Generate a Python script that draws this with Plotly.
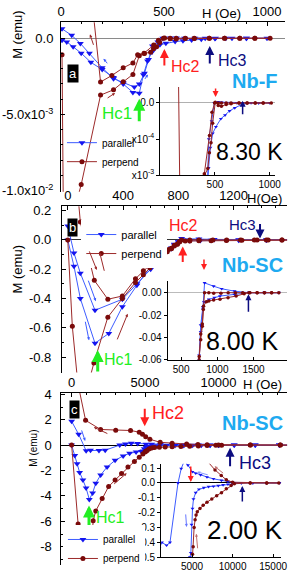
import plotly.graph_objects as go

W, H = 295, 574
FONT = "Liberation Sans, Arial, sans-serif"

# ---------------- data ----------------
# (a) Nb-F, 8.30 K   H in Oe, M in emu
a_par_H = [5, 28, 59, 98, 145, 200, 255, 302, 349, 380, 400, 420, 442, 458, 480, 509, 554, 592, 634, 681, 747, 830, 900, 1000,
           900, 800, 750, 700, 650, 600, 560, 530, 494, 470, 444, 425, 405, 380, 356, 302, 255, 200, 138, 94, 52, 5]
a_par_M = [-1.3e-4, -2.4e-4, -5.6e-4, -9.8e-4, -1.58e-3, -2.05e-3, -2.58e-3, -3.0e-3, -3.55e-3, -3.6e-3, -2.4e-3, -1.5e-3,
           -9e-4, -6.2e-4, -4.2e-4, -3.3e-4, -2.2e-4, -1.7e-4, -1.1e-4, -6.8e-5, -2e-5, 0, 0, 0,
           0, 0, 0, 0, 0, 0, 1e-5, 1.5e-5, 0, -2.5e-4, -5e-4, -1.4e-3, -2.3e-3, -3.0e-3, -3.2e-3, -2.9e-3, -2.65e-3,
           -1.94e-3, -9.8e-4, -3.4e-4, 1.9e-4, 6.2e-4]
a_perp_H = [5, 12, 60, 98, 192, 255, 302, 349, 380, 405, 435, 449, 464, 479, 503, 530, 559, 603, 647, 720, 794, 868, 941, 1015,
            941, 868, 794, 720, 647, 603, 559, 530, 497, 473, 450, 403, 372, 349, 302, 247, 192, 150]
a_perp_M = [-1.09e-3, -1.25e-2, -1.15e-2, -9.6e-3, -3.73e-3, -3.38e-3, -2.86e-3, -2.37e-3, -1.15e-3, -1.0e-3, -9.1e-4,
            -6.9e-4, -5.5e-4, -2.8e-4, 1e-5, -3.4e-5, -4.7e-5, -2e-5, -1e-5, 0, 0, 0, 0, 0,
            0, 0, 0, 0, 0, 0, 0, 0, 0, -1.3e-4, -4.5e-4, -9.8e-4, -1.09e-3, -1.62e-3, -1.94e-3, -2.44e-3, -2.87e-3, 2.5e-3]
a_inset_Hmin = 140  # the inset of (a) shows the loop from this field upward

# (b) Nb-SC, 8.00 K
b_par_H = [0, 45, 91, 197, 297, 395, 500, 594, 665, 710, 749, 771, 800, 816, 883, 960, 1037, 1237, 1437, 1650, 1850,
           1650, 1437, 1237, 1060, 949, 824, 800, 771, 749, 700, 600, 500, 395, 197, 91, 45, 0]
b_par_M = [0, -0.18, -0.40, -0.705, -0.638, -0.456, -0.31, -0.19, -0.12, -0.08, -0.056, -0.029, -0.013, -0.0082, -0.006,
           -0.0045, -0.003, -0.0015, 0, 0, 0,
           0, 0, 0.0014, 0.0035, 0.0058, 0.0088, -0.015, -0.035, -0.06, -0.1, -0.2, -0.3, -0.405, -0.48, -0.227, -0.089, 0.095]
b_perp_H = [0, 33, 75, 130, 189, 290, 395, 490, 547, 594, 640, 690, 730, 750, 771, 793, 810, 850, 883, 949, 1037, 1148, 1260,
            1370, 1437, 1550, 1650, 1750, 1850,
            1750, 1650, 1550, 1450, 1350, 1250, 1150, 1050, 950, 883, 824, 807, 793, 771, 750, 720, 667, 620, 547, 490, 395,
            290, 192, 91, 60]
b_perp_M = [0, -0.59, -1.0, -1.05, -0.84, -0.527, -0.40, -0.29, -0.238, -0.19, -0.14, -0.095, -0.065, -0.057, -0.037, -0.028,
            -0.012, -0.008, -0.0073, -0.0065, -0.0059, -0.0044, -0.003, -0.001, 0, 0, 0, 0, 0,
            0, 0, 0, 0, 0, 0, 0, -0.0005, -0.0005, 0, 0, -0.015, -0.03, -0.042, -0.06, -0.08, -0.105, -0.149, -0.211, -0.265,
            -0.383, -0.405, -0.276, 0.122, 0.45]

# (c) Nb-SC, 2.00 K
c_par_H = [0, 217, 375, 546, 770, 987, 1204, 1428, 1645, 1974, 2414, 2960, 3507, 3947, 4388, 4750, 4857, 4940, 5060, 5180,
           5452, 5850, 6450, 7040, 7640, 8240, 8830, 9430, 10020, 11070, 12500, 14145, 15800,
           14145, 12500, 11070, 10000, 9429, 8631, 7643, 6845, 6048, 5452, 5060, 4500, 4059, 3667, 3274, 2286, 1862, 1286,
           987, 480, 0]
c_par_M = [0, -0.82, -1.46, -2.15, -2.75, -3.38, -4.28, -3.77, -3.0, -2.36, -1.72, -1.2, -0.85, -0.65, -0.55, -0.50, -0.47,
           -0.28, -0.172, -0.108, -0.065, -0.043, -0.032, -0.025, -0.022, -0.018, -0.013, -0.009, -0.005, 0, 0, 0, 0,
           0, 0, 0, 0.004, 0.01, 0.017, 0.028, 0.04, 0.054, 0.065, 0.075, 0.12, 0.15, 0.097, 0, -0.40, -0.42, -0.40, -0.44,
           0.85, 1.87]
c_perp_H = [0, 441, 600, 900, 1200, 1467, 1645, 2080, 2520, 2960, 3400, 3836, 4276, 4605, 4850, 5000, 5060, 5140, 5260,
            5380, 5500, 5650, 5976, 6370, 6845, 7440, 8040, 8630, 9226, 9820, 10214, 12170, 14210, 15700,
            14210, 12170, 10000, 9226, 8600, 7833, 6842, 6031, 5330, 5044, 4825, 4605, 4013, 3004, 1974, 950, 400]
c_perp_M = [0, -6.2, -9.9, -11.5, -10.5, -5.95, -5.18, -4.2, -3.26, -2.75, -2.23, -1.72, -1.28, -0.95, -0.7, -0.55, -0.48,
            -0.43, -0.30, -0.248, -0.215, -0.194, -0.172, -0.15, -0.129, -0.108, -0.086, -0.065, -0.039, -0.017, -0.005,
            0, 0, 0,
            0, 0, 0.005, 0.021, 0.05, 0.088, 0.15, 0.22, 0.46, 0.66, 0.85, 1.02, 1.15, 1.18, 1.23, 1.95, 5.0]

# tick labels
a_xt = [0, 500, 1000];            a_xl = ["0", "500", "1000"]
a_yt = [0, -5e-3, -1e-2];         a_yl = ["0.0", "-5.0x10<sup>-3</sup>", "-1.0x10<sup>-2</sup>"]
ai_xt = [500, 1000];              ai_xl = ["500", "1000"]
ai_yt = [0, -5e-4, -1e-3];        ai_yl = ["0.0", "x10<sup>-4</sup>", "x10<sup>-3</sup>"]
b_xt = [0, 400, 800, 1200];       b_xl = ["0", "400", "800", "1200"]
b_yt = [0.2, 0, -0.2, -0.4, -0.6, -0.8]; b_yl = ["0.2", "0.0", "-0.2", "-0.4", "-0.6", "-0.8"]
bi_xt = [500, 1000, 1500];        bi_xl = ["500", "1000", "1500"]
bi_yt = [0, -0.02, -0.04, -0.06]; bi_yl = ["0.00", "-0.02", "-0.04", "-0.06"]
c_xt = [0, 5000, 10000];          c_xl = ["0", "5000", "10000"]
c_yt = [4, 2, 0, -2, -4, -6, -8]; c_yl = ["4", "2", "0", "-2", "-4", "-6", "-8"]
ci_xt = [5000, 10000, 15000];     ci_xl = ["5000", "10000", "15000"]
ci_yt = [0.1, 0, -0.1, -0.2, -0.3, -0.4, -0.5]
ci_yl = ["0.1", "0.0", "-0.1", "-0.2", "-0.3", "-0.4", "-0.5"]

BLUE_M, BLUE_L = "#1414f0", "#3d5cff"
BROWN_M, BROWN_L = "#7a0a0a", "#9c2a2a"
GREEN, RED, NAVY, CYAN = "#22ee22", "#ff2020", "#0c0c80", "#1eaaf0"


def fx(px):
    return px / W


def fy(py):
    return 1 - py / H


def above(hs, ms, hmin):
    keep = [(h, m) for h, m in zip(hs, ms) if h >= hmin]
    return [k[0] for k in keep], [k[1] for k in keep]


fig = go.Figure()


def pair(Hp, Mp, Hq, Mq, ax, leg, show, ms_t, ms_c):
    fig.add_trace(go.Scatter(x=Hp, y=Mp, name="parallel", mode="lines+markers", xaxis="x" + ax, yaxis="y" + ax,
                             line=dict(color=BLUE_L, width=1),
                             marker=dict(symbol="triangle-down", size=ms_t, color=BLUE_M),
                             legend=leg, showlegend=show))
    fig.add_trace(go.Scatter(x=Hq, y=Mq, name="perpend", mode="lines+markers", xaxis="x" + ax, yaxis="y" + ax,
                             line=dict(color=BROWN_L, width=1),
                             marker=dict(symbol="circle", size=ms_c, color=BROWN_M),
                             legend=leg, showlegend=show))


ai_par_H, ai_par_M = above(a_par_H, a_par_M, a_inset_Hmin)
ai_perp_H, ai_perp_M = above(a_perp_H, a_perp_M, a_inset_Hmin)

pair(a_par_H, a_par_M, a_perp_H, a_perp_M, "", "legend", True, 6, 5)
pair(ai_par_H, ai_par_M, ai_perp_H, ai_perp_M, "2", "legend", False, 3.5, 3.5)
pair(b_par_H, b_par_M, b_perp_H, b_perp_M, "3", "legend2", True, 6, 5)
pair(b_par_H, b_par_M, b_perp_H, b_perp_M, "4", "legend2", False, 3.5, 3.5)
pair(c_par_H, c_par_M, c_perp_H, c_perp_M, "5", "legend3", True, 6, 5)
pair(c_par_H, c_par_M, c_perp_H, c_perp_M, "6", "legend3", False, 3.5, 3.5)


def main_x(anchor, dom, rng, tv, tt, mdt):
    return dict(anchor=anchor, domain=dom, range=rng, side="top", showline=True, linecolor="black", linewidth=1,
                ticks="inside", ticklen=4, tickcolor="black", tickmode="array", tickvals=tv, ticktext=tt,
                minor=dict(ticks="inside", ticklen=2, tick0=0, dtick=mdt, tickcolor="black"),
                showgrid=False, zeroline=False, tickfont=dict(size=13, color="black", family=FONT))


def main_y(anchor, dom, rng, tv, tt, mdt, zc, standoff):
    return dict(anchor=anchor, domain=dom, range=rng, showline=True, linecolor="black", linewidth=1,
                ticks="inside", ticklen=4, tickcolor="black", tickmode="array", tickvals=tv, ticktext=tt,
                minor=dict(ticks="inside", ticklen=2, tick0=0, dtick=mdt, tickcolor="black"),
                showgrid=False, zeroline=True, zerolinecolor=zc, zerolinewidth=1, ticklabelstandoff=standoff,
                tickfont=dict(size=13, color="black", family=FONT))


def ins_x(anchor, dom, rng, tv, tt):
    return dict(anchor=anchor, domain=dom, range=rng, showline=True, linecolor="black", linewidth=1,
                ticks="inside", ticklen=3, tickcolor="black", tickmode="array", tickvals=tv, ticktext=tt,
                showgrid=False, zeroline=False, tickfont=dict(size=10, color="black", family=FONT))


def ins_y(anchor, dom, rng, tv, tt, zc):
    return dict(anchor=anchor, domain=dom, range=rng, showline=True, linecolor="black", linewidth=1,
                ticks="outside", ticklen=3, tickcolor="black", tickmode="array", tickvals=tv, ticktext=tt,
                showgrid=False, zeroline=True, zerolinecolor=zc, zerolinewidth=1,
                tickfont=dict(size=10, color="black", family=FONT))


fig.update_layout(
    width=W, height=H, margin=dict(l=0, r=0, t=0, b=0), paper_bgcolor="white", plot_bgcolor="white",
    font=dict(family=FONT, color="black"),
    xaxis=main_x("y", [fx(59), fx(291)], [0, 1088], a_xt, a_xl, 100),
    yaxis=main_y("x", [fy(190), fy(16.7)], [-1.0064e-2, 1.045e-3], a_yt, a_yl, 1e-3, "#8a8a8a", 4),
    xaxis2=ins_x("y2", [fx(161.7), fx(281)], [0, 1053], ai_xt, ai_xl),
    yaxis2=ins_y("x2", [fy(173), fy(83)], [-1.0e-3, 2.2e-4], ai_yt, ai_yl, "#b0b0b0"),
    xaxis3=main_x("y3", [fx(60), fx(293)], [-42, 1587], b_xt, b_xl, 100),
    yaxis3=main_y("x3", [fy(375), fy(205)], [-0.905, 0.229], b_yt, b_yl, 0.1, "#333333", 7),
    xaxis4=ins_x("y4", [fx(169.3), fx(293)], [313, 1963], bi_xt, bi_xl),
    yaxis4=ins_y("x4", [fy(362), fy(281)], [-0.06, 0.0108], bi_yt, bi_yl, "#bbbbbb"),
    xaxis5=main_x("y5", [fx(59.3), fx(293)], [-704, 14671], c_xt, c_xl, 1000),
    yaxis5=main_y("x5", [fy(572), fy(396)], [-9.44, 4.1], c_yt, c_yl, 1, "#000000", 6),
    xaxis6=ins_x("y6", [fx(162.7), fx(287)], [1200, 16000], ci_xt, ci_xl),
    yaxis6=ins_y("x6", [fy(564), fy(468.3)], [-0.5, 0.13], ci_yt, ci_yl, "#000000"),
    legend=dict(x=fx(60), y=fy(125), xanchor="left", yanchor="top", bgcolor="rgba(0,0,0,0)",
                font=dict(size=10, family=FONT)),
    legend2=dict(x=fx(80), y=fy(219), xanchor="left", yanchor="top", bgcolor="white",
                 font=dict(size=11, family=FONT)),
    legend3=dict(x=fx(61), y=fy(531), xanchor="left", yanchor="top", bgcolor="white",
                 font=dict(size=10, family=FONT)),
)

ann = []


def txt(s, px, py, size, color="black", angle=0, bg=None):
    d = dict(text=s, x=fx(px), y=fy(py), xref="paper", yref="paper", showarrow=False, textangle=angle,
             xanchor="center", yanchor="middle", font=dict(size=size, color=color, family=FONT))
    if bg:
        d.update(bgcolor=bg, borderpad=1)
    ann.append(d)


def arr(hx, hy, tx, ty, color, width=1.0, size=1.0):
    ann.append(dict(text="", x=fx(hx), y=fy(hy), xref="paper", yref="paper", showarrow=True,
                    ax=tx - hx, ay=ty - hy, axref="pixel", ayref="pixel", arrowhead=2, arrowsize=size,
                    arrowwidth=width, arrowcolor=color, standoff=0, startstandoff=0))


# panel a
txt("H (Oe)", 225, 8, 13)
txt("M (emu)", 14, 30, 13, angle=-90)
txt("a", 71, 69.5, 13, "white", bg="black")
txt("Hc1", 117, 110, 17, GREEN)
txt("Hc2", 188, 62, 16, RED)
txt("Hc3", 237, 56, 16, NAVY)
txt("<b>Nb-F</b>", 260, 76.5, 20, CYAN)
txt("8.30 K", 254, 149, 23)
arr(140, 95, 140, 119, GREEN, 3, 0.8)
arr(166, 44, 166, 62, RED, 2, 0.9)
arr(213, 41, 213, 60, NAVY, 2, 0.9)
arr(219, 93, 219, 83, RED, 1.5, 0.8)
arr(247, 97, 247, 112, NAVY, 1.5, 0.8)
arr(89, 29, 93, 41, BROWN_L, 1, 0.6)
arr(115, 89, 106, 95, BROWN_L, 1, 0.6)
arr(103, 54, 108, 60, BLUE_L, 1, 0.6)
arr(149, 70, 145, 76, BLUE_L, 1, 0.6)

# panel b
txt("H(Oe)", 270, 197, 13)
txt("M (emu)", 14, 270, 13, angle=-90)
txt("b", 71, 227, 13, "white", bg="black")
txt("Hc2", 186, 225, 16, RED)
txt("Hc3", 247, 224, 15, NAVY)
txt("<b>Nb-SC</b>", 257, 265, 20, CYAN)
txt("Hc1", 118, 362, 16, GREEN)
txt("8.00 K", 247, 343, 25)
arr(97, 352, 97, 375, GREEN, 3, 0.8)
arr(185, 246, 185, 263, RED, 2, 0.9)
arr(265, 238, 265, 222, NAVY, 2, 0.9)
arr(207, 270, 207, 258, RED, 1.5, 0.8)
arr(253, 295, 253, 314, NAVY, 1.5, 0.8)
arr(96, 270, 88, 250, BROWN_L, 1, 0.6)
arr(99, 252, 104, 272, BROWN_L, 1, 0.6)
arr(95, 302, 87, 280, BLUE_L, 1, 0.6)
arr(88, 342, 84, 322, BLUE_L, 1, 0.6)
arr(128, 315, 117, 342, BROWN_L, 1, 0.6)

# panel c
txt("H (Oe)", 268, 387, 13)
txt("M (emu)", 31, 452, 10, angle=-90)
txt("c", 73, 412.5, 13, "white", bg="black")
txt("Hc2", 170, 416, 18, RED)
txt("<b>Nb-SC</b>", 257, 427, 20, CYAN)
txt("Hc3", 260, 468, 18, NAVY)
txt("Hc1", 110, 523, 16, GREEN)
txt("2.00 K", 249, 536, 26)
arr(88, 511, 88, 532, GREEN, 3, 0.8)
arr(145.7, 430, 145.7, 411, RED, 2, 0.9)
arr(234, 452, 234, 472, NAVY, 2, 0.9)
arr(193.3, 487, 193.3, 470, RED, 1.5, 0.8)
arr(246.7, 491, 246.7, 508, NAVY, 1.5, 0.8)
arr(93, 431, 108, 438, BROWN_L, 1, 0.6)
arr(127, 478, 113, 490, BROWN_L, 1, 0.6)
arr(84, 445, 80, 433, BLUE_L, 1, 0.6)
arr(200, 476.7, 212, 480, "#8899ff", 1, 0.6)
arr(218, 471, 228, 479, "#c07070", 1, 0.6)
arr(189, 533, 188, 519, "#6677ff", 1, 0.6)
arr(199, 540, 200.5, 556, "#c07070", 1, 0.6)

fig.update_layout(annotations=ann)
fig.write_html("out.html", config={"displayModeBar": False},
               post_script="document.body.style.margin='0px';document.body.style.overflow='hidden';")
